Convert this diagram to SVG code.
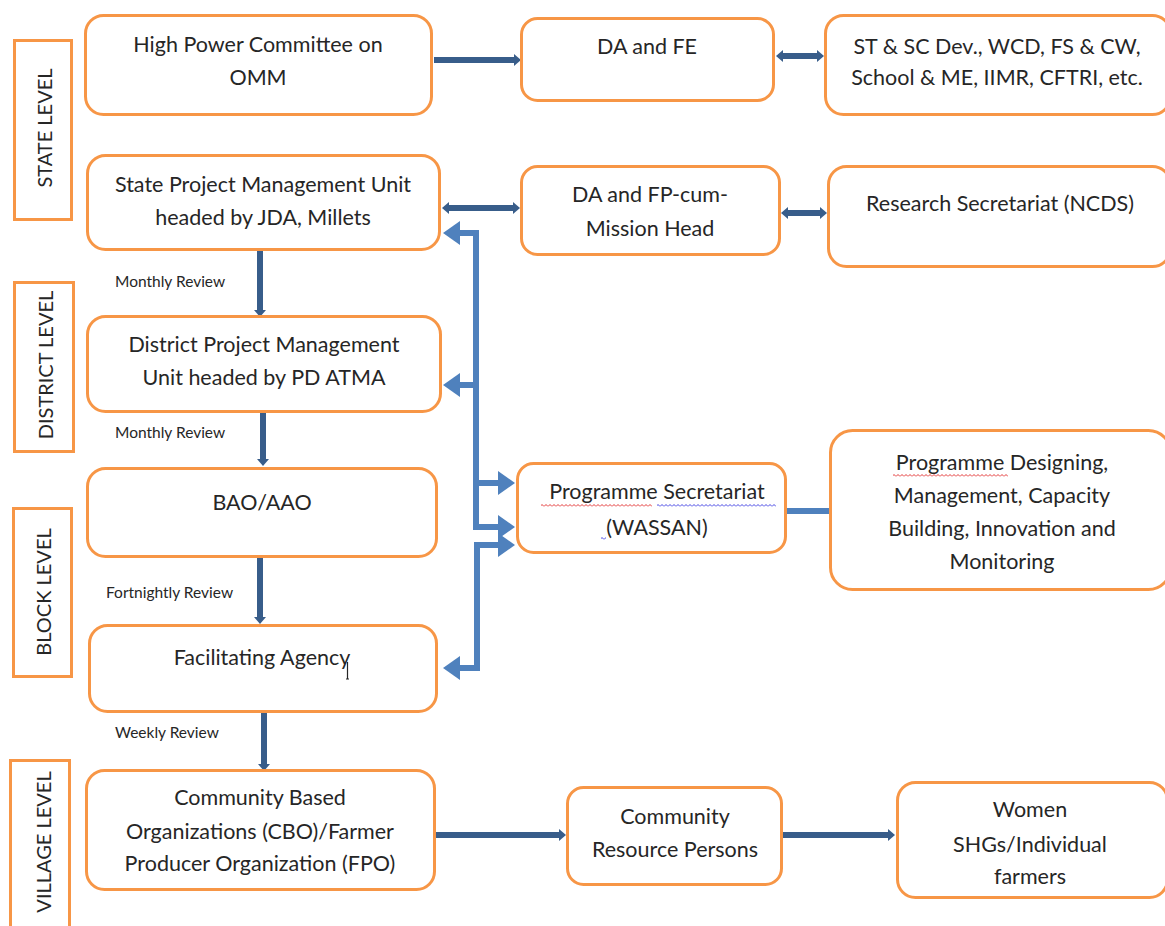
<svg xmlns="http://www.w3.org/2000/svg" width="1165" height="926" viewBox="0 0 1165 926">
  <style>
    .node { fill: #ffffff; stroke: #f79646; stroke-width: 3; }
    .level { fill: #ffffff; stroke: #f79646; stroke-width: 3; }
    .t { font-family: Lato, "Liberation Sans", sans-serif; font-size: 21.5px; fill: #262626; text-anchor: middle; }
    .lv { font-family: Lato, "Liberation Sans", sans-serif; font-size: 20px; fill: #262626; text-anchor: middle; }
    .rv { font-family: Lato, "Liberation Sans", sans-serif; font-size: 15.5px; fill: #262626; }
    .dark { fill: none; stroke: #385d8a; stroke-width: 6; }
    .light { fill: none; stroke: #4f81bd; stroke-width: 6; stroke-linejoin: miter; }
  </style>
  <defs>
    <marker id="dh" viewBox="0 0 7 12" markerWidth="7" markerHeight="12" refX="0" refY="6" orient="auto-start-reverse" markerUnits="userSpaceOnUse">
      <path d="M0,0 L7,6 L0,12 Z" fill="#385d8a"/>
    </marker>
    <marker id="lh" viewBox="0 0 17 24" markerWidth="17" markerHeight="24" refX="0" refY="12" orient="auto-start-reverse" markerUnits="userSpaceOnUse">
      <path d="M0,0 L17,12 L0,24 Z" fill="#4f81bd"/>
    </marker>
    <pattern id="sq-red" width="4" height="3" patternUnits="userSpaceOnUse">
      <path d="M0,2.5 L2,0.5 L4,2.5" fill="none" stroke="#e02020" stroke-width="0.9"/>
    </pattern>
    <pattern id="sq-blue" width="4" height="3" patternUnits="userSpaceOnUse">
      <path d="M0,2.5 L2,0.5 L4,2.5" fill="none" stroke="#3030e0" stroke-width="0.9"/>
    </pattern>
  </defs>

  <rect width="1165" height="926" fill="#ffffff"/>

  <!-- level bands -->
  <g id="level-state">
    <rect class="level" x="14.5" y="40.5" width="57" height="179"/>
    <text class="lv" transform="translate(52,128) rotate(-90)">STATE LEVEL</text>
  </g>
  <g id="level-district">
    <rect class="level" x="14.5" y="282.5" width="59" height="169"/>
    <text class="lv" transform="translate(53,365) rotate(-90)">DISTRICT LEVEL</text>
  </g>
  <g id="level-block">
    <rect class="level" x="13.5" y="508.5" width="58" height="168"/>
    <text class="lv" transform="translate(51,592) rotate(-90)">BLOCK LEVEL</text>
  </g>
  <g id="level-village">
    <rect class="level" x="10.5" y="760.5" width="59" height="180"/>
    <text class="lv" transform="translate(51,842) rotate(-90)">VILLAGE LEVEL</text>
  </g>

  <!-- connectors -->
  <g id="connectors">
    <path class="dark" d="M434,60 H514" marker-end="url(#dh)"/>
    <path class="dark" d="M783,56 H817" marker-start="url(#dh)" marker-end="url(#dh)"/>
    <path class="dark" d="M449,208 H513" marker-start="url(#dh)" marker-end="url(#dh)"/>
    <path class="dark" d="M788,213 H820" marker-start="url(#dh)" marker-end="url(#dh)"/>
    <path class="dark" d="M260,250 V310" marker-end="url(#dh)"/>
    <path class="dark" d="M263,412 V459" marker-end="url(#dh)"/>
    <path class="dark" d="M260,557 V617" marker-end="url(#dh)"/>
    <path class="dark" d="M264,712 V764" marker-end="url(#dh)"/>
    <path class="dark" d="M435,835 H559" marker-end="url(#dh)"/>
    <path class="dark" d="M782,835 H888" marker-end="url(#dh)"/>

    <path class="light" d="M498,527 H476 V233 H460" marker-start="url(#lh)" marker-end="url(#lh)"/>
    <path class="light" d="M476,385 H460" marker-end="url(#lh)"/>
    <path class="light" d="M476,483 H498" marker-end="url(#lh)"/>
    <path class="light" d="M498,545 H477 V668 H460" marker-start="url(#lh)" marker-end="url(#lh)"/>
    <path class="light" d="M786,511 H829"/>
  </g>

  <!-- review labels -->
  <g id="review-labels">
    <text class="rv" x="115" y="287">Monthly Review</text>
    <text class="rv" x="115" y="438">Monthly Review</text>
    <text class="rv" x="106" y="598">Fortnightly Review</text>
    <text class="rv" x="115" y="738">Weekly Review</text>
  </g>

  <g id="hpc">
    <rect class="node" x="85.5" y="15.5" width="346" height="99" rx="18"/>
    <text class="t" x="258" y="52">High Power Committee on</text>
    <text class="t" x="258" y="85">OMM</text>
  </g>
  <g id="da-fe">
    <rect class="node" x="521.5" y="18.5" width="252" height="82" rx="16"/>
    <text class="t" x="647" y="54">DA and FE</text>
  </g>
  <g id="line-depts">
    <rect class="node" x="825.5" y="15.5" width="345" height="99" rx="18"/>
    <text class="t" x="997" y="54">ST &amp; SC Dev., WCD, FS &amp; CW,</text>
    <text class="t" x="997" y="85">School &amp; ME, IIMR, CFTRI, etc.</text>
  </g>
  <g id="spmu">
    <rect class="node" x="87.5" y="155.5" width="352" height="94" rx="18"/>
    <text class="t" x="263" y="192">State Project Management Unit</text>
    <text class="t" x="263" y="225">headed by JDA, Millets</text>
  </g>
  <g id="da-fp">
    <rect class="node" x="521.5" y="166.5" width="258" height="88" rx="16"/>
    <text class="t" x="650" y="202">DA and FP-cum-</text>
    <text class="t" x="650" y="236">Mission Head</text>
  </g>
  <g id="research">
    <rect class="node" x="828.5" y="166.5" width="342" height="100" rx="18"/>
    <text class="t" x="1000" y="211">Research Secretariat (NCDS)</text>
  </g>
  <g id="dpmu">
    <rect class="node" x="87.5" y="316.5" width="353" height="95" rx="18"/>
    <text class="t" x="264" y="352">District Project Management</text>
    <text class="t" x="264" y="385">Unit headed by PD ATMA</text>
  </g>
  <g id="bao">
    <rect class="node" x="87.5" y="468.5" width="349" height="88" rx="18"/>
    <text class="t" x="262" y="510">BAO/AAO</text>
  </g>
  <g id="fa">
    <rect class="node" x="89.5" y="625.5" width="347" height="86" rx="18"/>
    <text class="t" x="262" y="665">Facilitating Agency</text>
    <path d="M347.5,662 V679 M346,679 H349" stroke="#262626" stroke-width="1.2" fill="none"/>
  </g>
  <g id="ps">
    <rect class="node" x="517.5" y="463.5" width="268" height="89" rx="16"/>
    <text class="t" x="657" y="499">Programme Secretariat</text>
    <text class="t" x="657" y="535">(WASSAN)</text>
    <rect x="541" y="504" width="111" height="3" fill="url(#sq-red)"/>
    <rect x="657" y="504" width="119" height="3" fill="url(#sq-blue)"/>
    <rect x="601" y="537" width="5" height="3" fill="url(#sq-blue)"/>
  </g>
  <g id="programme-design">
    <rect class="node" x="830.5" y="430.5" width="340" height="159" rx="22"/>
    <text class="t" x="1002" y="470">Programme Designing,</text>
    <text class="t" x="1002" y="503">Management, Capacity</text>
    <text class="t" x="1002" y="536">Building, Innovation and</text>
    <text class="t" x="1002" y="569">Monitoring</text>
    <rect x="893" y="474" width="115" height="3" fill="url(#sq-red)"/>
  </g>
  <g id="cbo">
    <rect class="node" x="86.5" y="770.5" width="348" height="119" rx="18"/>
    <text class="t" x="260" y="805">Community Based</text>
    <text class="t" x="260" y="839">Organizations (CBO)/Farmer</text>
    <text class="t" x="260" y="871">Producer Organization (FPO)</text>
  </g>
  <g id="crp">
    <rect class="node" x="567.5" y="787.5" width="214" height="97" rx="16"/>
    <text class="t" x="675" y="824">Community</text>
    <text class="t" x="675" y="857">Resource Persons</text>
  </g>
  <g id="women">
    <rect class="node" x="897.5" y="782.5" width="270" height="115" rx="18"/>
    <text class="t" x="1030" y="817">Women</text>
    <text class="t" x="1030" y="852">SHGs/Individual</text>
    <text class="t" x="1030" y="884">farmers</text>
  </g>
</svg>
